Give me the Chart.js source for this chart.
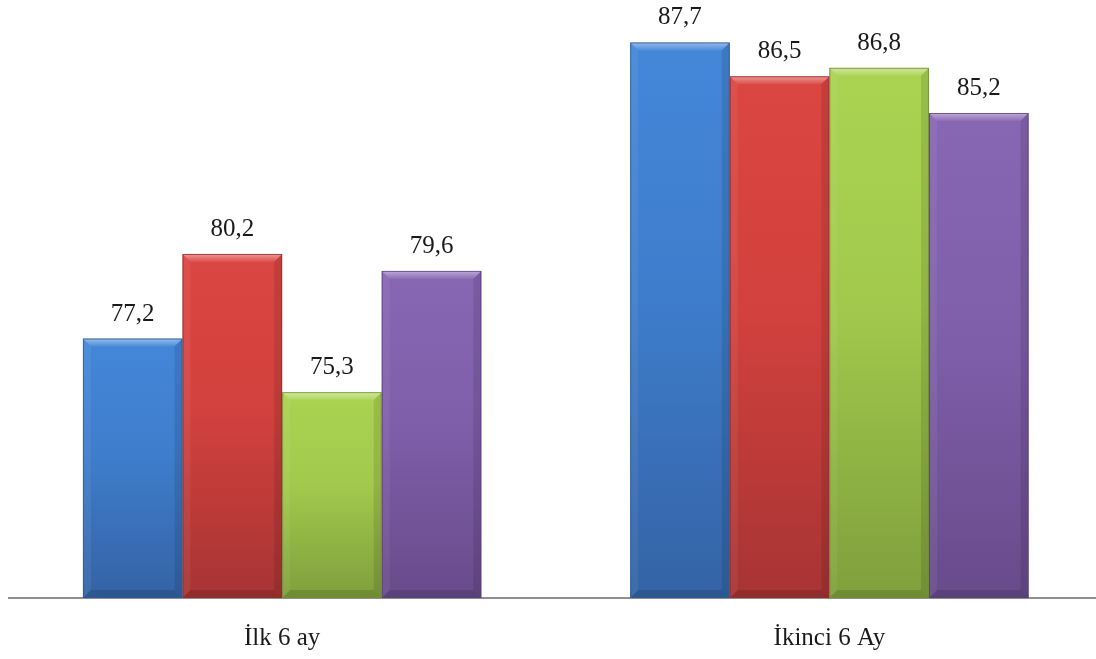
<!DOCTYPE html>
<html>
<head>
<meta charset="utf-8">
<script src="https://cdn.jsdelivr.net/npm/chart.js@4.4.1/dist/chart.umd.min.js"></script>
<style>
  html, body { margin: 0; padding: 0; background: #fff; overflow: hidden; }
  #wrap { width: 1103px; height: 659px; }
</style>
</head>
<body>
<div id="wrap"><canvas id="halfYearChart" width="1103" height="659"></canvas></div>
<script>
// period labels and the four series
const categories = ['İlk 6 ay', 'İkinci 6 Ay'];
const seriesBlue = [77.2, 87.7];
const seriesRed = [80.2, 86.5];
const seriesGreen = [75.3, 86.8];
const seriesPurple = [79.6, 85.2];

const yMin = 68;
const yMax = 88;

// light (top) / dark (bottom) tones per series
const palette = [
    { top: '#4487d8', mid: '#3e7dcc', bottom: '#3463a5', edge: '#2f5a95' },
    { top: '#db4642', mid: '#d2413d', bottom: '#a73434', edge: '#922d2d' },
    { top: '#abd352', mid: '#a2c94c', bottom: '#7f9f3c', edge: '#718e35' },
    { top: '#8766b4', mid: '#7f5faa', bottom: '#684b8b', edge: '#5a407a' }
];

function barGradient(i) {
    return function (c) {
        const chart = c.chart;
        if (!chart.chartArea || c.raw == null) return palette[i].mid;
        const y = chart.scales.y;
        const top = y.getPixelForValue(c.raw);
        const bottom = chart.chartArea.bottom;
        const g = chart.ctx.createLinearGradient(0, top, 0, bottom);
        g.addColorStop(0, palette[i].top);
        g.addColorStop(0.45, palette[i].mid);
        g.addColorStop(1, palette[i].bottom);
        return g;
    };
}

// bevel edges + value labels on top of each bar
const bevelAndLabels = {
    id: 'bevelAndLabels',
    afterDatasetsDraw(chart) {
        const ctx = chart.ctx;
        const b = 8;
        const area = chart.chartArea;
        chart.data.datasets.forEach((ds, di) => {
            const meta = chart.getDatasetMeta(di);
            meta.data.forEach((bar, idx) => {
                const left = bar.x - bar.width / 2;
                const right = bar.x + bar.width / 2;
                const top = bar.y;
                const base = Math.min(bar.base, area.bottom);
                ctx.save();
                // top bevel
                const gt = ctx.createLinearGradient(0, top, 0, top + b);
                gt.addColorStop(0, 'rgba(255,255,255,0.45)');
                gt.addColorStop(1, 'rgba(255,255,255,0.05)');
                ctx.fillStyle = gt;
                ctx.beginPath();
                ctx.moveTo(left, top);
                ctx.lineTo(right, top);
                ctx.lineTo(right - b, top + b);
                ctx.lineTo(left + b, top + b);
                ctx.closePath();
                ctx.fill();
                // left bevel
                ctx.fillStyle = 'rgba(255,255,255,0.06)';
                ctx.beginPath();
                ctx.moveTo(left, top);
                ctx.lineTo(left + b, top + b);
                ctx.lineTo(left + b, base - b);
                ctx.lineTo(left, base);
                ctx.closePath();
                ctx.fill();
                // right bevel
                ctx.fillStyle = 'rgba(0,0,0,0.10)';
                ctx.beginPath();
                ctx.moveTo(right, top);
                ctx.lineTo(right - b, top + b);
                ctx.lineTo(right - b, base - b);
                ctx.lineTo(right, base);
                ctx.closePath();
                ctx.fill();
                // bottom bevel
                ctx.fillStyle = 'rgba(0,0,0,0.12)';
                ctx.beginPath();
                ctx.moveTo(left, base);
                ctx.lineTo(left + b, base - b);
                ctx.lineTo(right - b, base - b);
                ctx.lineTo(right, base);
                ctx.closePath();
                ctx.fill();
                // outline
                ctx.strokeStyle = palette[di].edge;
                ctx.globalAlpha = 0.8;
                ctx.lineWidth = 1;
                ctx.strokeRect(left + 0.5, top + 0.5, bar.width - 1, base - top - 1);
                ctx.restore();

                // value label
                const v = ds.data[idx];
                ctx.save();
                ctx.fillStyle = '#1a1a1a';
                ctx.font = '25px "Liberation Serif", "DejaVu Serif", serif';
                ctx.textAlign = 'center';
                ctx.textBaseline = 'alphabetic';
                ctx.fillText(v.toFixed(1).replace('.', ','), bar.x, top - 18);
                ctx.restore();
            });
        });
    }
};

const ctx = document.getElementById('halfYearChart').getContext('2d');

new Chart(ctx, {
    type: 'bar',
    data: {
        labels: categories,
        datasets: [
            { label: 'Seri 1', data: seriesBlue, backgroundColor: barGradient(0) },
            { label: 'Seri 2', data: seriesRed, backgroundColor: barGradient(1) },
            { label: 'Seri 3', data: seriesGreen, backgroundColor: barGradient(2) },
            { label: 'Seri 4', data: seriesPurple, backgroundColor: barGradient(3) }
        ]
    },
    options: {
        responsive: false,
        animation: false,
        devicePixelRatio: 1,
        layout: { padding: { left: 8.5, right: 0, top: 34, bottom: 0 } },
        datasets: {
            bar: { categoryPercentage: 0.728, barPercentage: 1.0, borderWidth: 0 }
        },
        plugins: {
            legend: { display: false },
            tooltip: { enabled: false }
        },
        scales: {
            y: { display: false, min: yMin, max: yMax },
            x: {
                grid: { display: false, drawTicks: false },
                border: { display: true, color: '#8f8f8f', width: 2 },
                afterFit(scale) { scale.height = 61; },
                ticks: {
                    color: '#1a1a1a',
                    padding: 25,
                    font: { family: '"Liberation Serif", "DejaVu Serif", serif', size: 25 }
                }
            }
        }
    },
    plugins: [bevelAndLabels]
});
</script>
</body>
</html>
